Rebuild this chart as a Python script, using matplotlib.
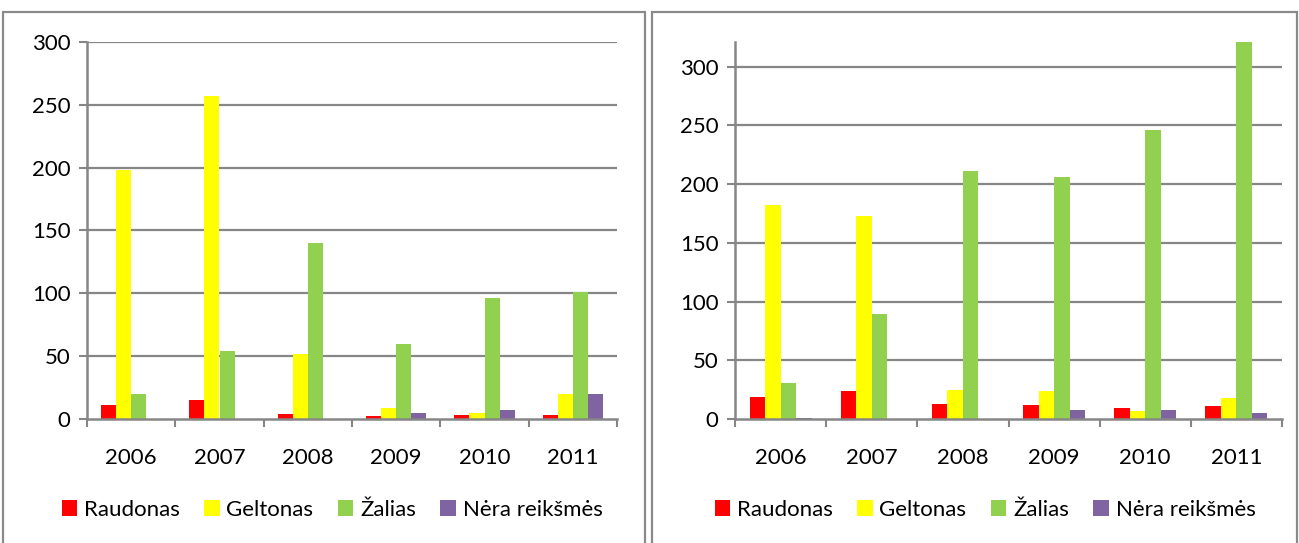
import numpy as np
import matplotlib.pyplot as plt
from matplotlib.patches import Rectangle

plt.rcParams['font.family'] = ['Lato', 'DejaVu Sans']

years = ['2006', '2007', '2008', '2009', '2010', '2011']
series_names = ['Raudonas', 'Geltonas', 'Žalias', 'Nėra reikšmės']
colors = ['#FF0000', '#FFFF00', '#92D050', '#8064A2']

# kairysis grafikas
left_red = [11, 15, 4, 2, 3, 3]
left_yellow = [198, 257, 52, 9, 5, 20]
left_green = [20, 54, 140, 60, 96, 101]
left_purple = [0, 0, 0, 5, 7, 20]

# dešinysis grafikas
right_red = [19, 24, 13, 12, 9, 11]
right_yellow = [182, 173, 25, 24, 7, 18]
right_green = [31, 89, 211, 206, 246, 322]
right_purple = [1, 0, 0, 8, 8, 5]

grey = '#868686'

fig = plt.figure(figsize=(12.99, 5.43), dpi=100)

# rėmeliai aplink grafikus
for x0, x1 in [(3, 645), (652, 1297)]:
    fig.patches.append(Rectangle((x0 / 1299, -0.02), (x1 - x0) / 1299, 1.02 - 12 / 543,
                                 transform=fig.transFigure, fill=False,
                                 edgecolor='#8a8a8a', lw=1.6))


def draw(ax, data, ymax, gridtop):
    x = np.arange(len(years))
    w = 0.17
    for i, (vals, c) in enumerate(zip(data, colors)):
        ax.bar(x + (i - 1.5) * w, vals, w, color=c, label=series_names[i], zorder=3)
    ax.set_xlim(-0.5, len(years) - 0.5)
    ax.set_ylim(0, ymax)
    ax.set_yticks(np.arange(0, 301, 50))
    ax.set_xticks(x)
    ax.set_xticklabels(years)
    ax.set_xticks(np.arange(-0.5, len(years), 1), minor=True)
    ax.tick_params(axis='x', which='major', length=0, pad=21, labelsize=16)
    ax.tick_params(axis='x', which='minor', length=6, width=1.5, color=grey, direction='out')
    ax.tick_params(axis='y', length=6, width=1.5, color=grey, labelsize=16, pad=6)
    for t in ax.get_yticks():
        if t > 0 and (t < ymax or gridtop):
            ax.axhline(t, color=grey, lw=1.6, zorder=1)
    for s in ['top', 'right']:
        ax.spines[s].set_visible(False)
    for s in ['left', 'bottom']:
        ax.spines[s].set_color(grey)
        ax.spines[s].set_linewidth(1.8)
    ax.spines['bottom'].set_zorder(4)


ax1 = fig.add_axes([87 / 1299, 1 - 419 / 543, 530 / 1299, 377 / 543])
draw(ax1, [left_red, left_yellow, left_green, left_purple], 300, True)
ax2 = fig.add_axes([735 / 1299, 1 - 419 / 543, 547 / 1299, 377 / 543])
draw(ax2, [right_red, right_yellow, right_green, right_purple], 321, False)

for ax, cx in [(ax1, 332 / 1299), (ax2, 985 / 1299)]:
    fig.legend(handles=[h[0] for h in ax.containers], labels=series_names,
               loc='center', bbox_to_anchor=(cx, 1 - 510 / 543), ncol=4,
               frameon=False, fontsize=16, handlelength=0.7, handleheight=0.7,
               handletextpad=0.3, columnspacing=1.1)

fig.savefig('out.png', dpi=100)
